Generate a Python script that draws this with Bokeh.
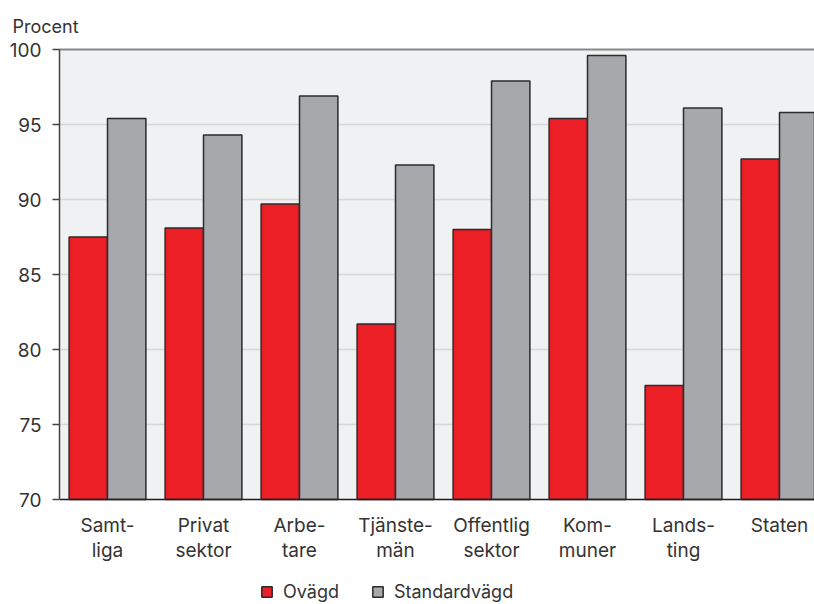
from bokeh.plotting import figure
from bokeh.models import (ColumnDataSource, FixedTicker, Legend, LegendItem,
                          LinearAxis, Range1d, Title, BoxAnnotation)
from bokeh.embed import file_html
from bokeh.resources import INLINE

categories = ["Samt-\nliga", "Privat\nsektor", "Arbe-\ntare", "Tjänste-\nmän",
              "Offentlig\nsektor", "Kom-\nmuner", "Lands-\nting", "Staten"]
ovagd = [87.5, 88.1, 89.7, 81.7, 88.0, 95.4, 77.6, 92.7]
standardvagd = [95.4, 94.3, 96.9, 92.3, 97.9, 99.6, 96.1, 95.8]
y_ticks = [70, 75, 80, 85, 90, 95, 100]
series_names = ["Ovägd", "Standardvägd"]

FONT = "Inter"
RED = "#ec1f27"
GRAY = "#a7a8ab"
EDGE = "#2b2b2b"
TXT = "#333333"
Y0, Y1 = 70, 100

centers = [i + 0.5 for i in range(len(categories))]
src = ColumnDataSource(dict(
    xr=[c - 0.2 for c in centers],
    xg=[c + 0.2 for c in centers],
    ov=ovagd, st=standardvagd,
))

# frame extends below the value axis to host the category labels and legend
PX_PER_UNIT = 15
FRAME_H = 556
p = figure(frame_width=755, frame_height=FRAME_H, output_backend="svg",
           toolbar_location=None,
           x_range=Range1d(0, 755 / 96),
           y_range=Range1d(Y1 - FRAME_H / PX_PER_UNIT, Y1),
           min_border_left=59, min_border_right=0, min_border_top=48,
           min_border_bottom=0)
p.background_fill_color = "white"
p.border_fill_color = "white"
p.outline_line_color = None

plot_bg = BoxAnnotation(bottom=Y0, top=Y1, fill_color="#f0f1f3", fill_alpha=1,
                        line_color=None, level="image")
p.add_layout(plot_bg)

rr = p.vbar(x="xr", width=0.4, top="ov", bottom=Y0, source=src,
            fill_color=RED, line_color=EDGE, line_width=1.5)
rg = p.vbar(x="xg", width=0.4, top="st", bottom=Y0, source=src,
            fill_color=GRAY, line_color=EDGE, line_width=1.5)

# y axis
ya = p.yaxis[0]
ya.ticker = FixedTicker(ticks=y_ticks)
ya.bounds = (Y0, Y1)
ya.major_label_text_font = FONT
ya.major_label_text_font_size = "19px"
ya.major_label_text_color = TXT
ya.major_tick_out = 7
ya.major_tick_in = 0
ya.minor_tick_line_color = None
ya.axis_line_color = "#444444"
ya.axis_line_width = 1.5
ya.major_tick_line_color = "#444444"
ya.major_tick_line_width = 1.5
ya.major_label_standoff = 11

# x axis, drawn at the bottom of the value range
xa = p.xaxis[0]
xa.fixed_location = Y0
xa.ticker = FixedTicker(ticks=centers)
xa.major_label_overrides = {c: lab for c, lab in zip(centers, categories)}
xa.major_label_text_font = FONT
xa.major_label_text_font_size = "19px"
xa.major_label_text_line_height = 1.1
xa.major_label_text_color = TXT
xa.major_tick_line_color = None
xa.minor_tick_line_color = None
xa.axis_line_color = "#222222"
xa.axis_line_width = 1.5
xa.major_label_standoff = 8

# top border line
top = LinearAxis(ticker=FixedTicker(ticks=[]), major_label_text_font_size="0px",
                 axis_line_color="#888888", axis_line_width=2,
                 major_tick_line_color=None, minor_tick_line_color=None)
p.add_layout(top, "above")

p.xgrid.grid_line_color = None
p.ygrid.ticker = FixedTicker(ticks=y_ticks)
p.ygrid.grid_line_color = "#d6d7da"
p.ygrid.grid_line_width = 1.5

title = Title(text="Procent", align="left", offset=-47,
              text_font=FONT, text_font_size="18px",
              text_color=TXT, text_font_style="normal")
if "standoff" in Title.properties():
    title.standoff = 26
p.add_layout(title, "above")

legend = Legend(items=[LegendItem(label=series_names[0], renderers=[rr]),
                       LegendItem(label=series_names[1], renderers=[rg])],
                orientation="horizontal", location=(199, 1),
                label_text_font=FONT, label_text_font_size="18px",
                label_text_color=TXT, glyph_width=13, glyph_height=13,
                label_standoff=10, spacing=32, border_line_alpha=0,
                background_fill_alpha=0, padding=2, margin=0)
p.add_layout(legend, "center")

open("out.html", "w").write(file_html(p, INLINE))
